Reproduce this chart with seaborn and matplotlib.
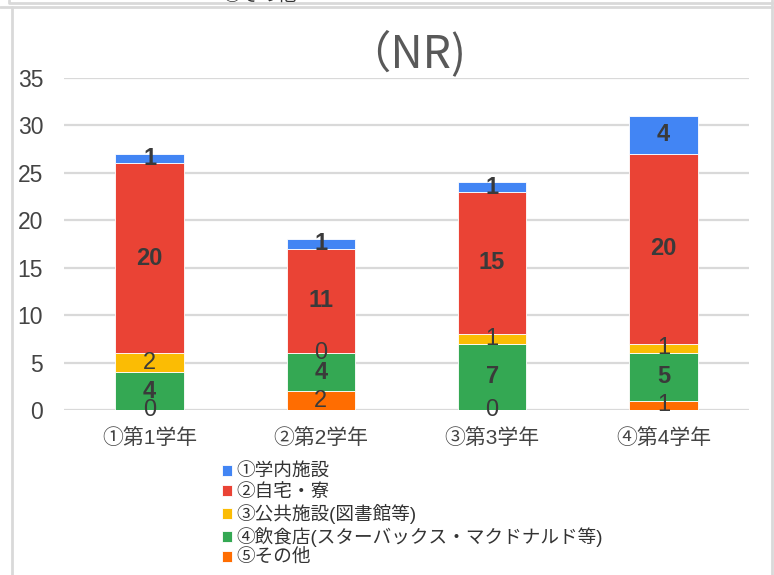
import matplotlib
matplotlib.use("Agg")
import matplotlib.pyplot as plt
import seaborn as sns
import pandas as pd
from matplotlib.lines import Line2D

grades = ["①第1学年", "②第2学年", "③第3学年", "④第4学年"]
series = ["①学内施設", "②自宅・寮", "③公共施設(図書館等)",
          "④飲食店(スターバックス・マクドナルド等)", "⑤その他"]
campus = [1, 1, 1, 4]
home = [20, 11, 15, 20]
public = [2, 0, 1, 1]
food = [4, 4, 7, 5]
other = [0, 2, 0, 1]
colors = ["#4285F4", "#EA4335", "#FBBC04", "#34A853", "#FF6D01"]

sns.set_theme(style="white")
plt.rcParams["font.family"] = ["Liberation Sans", "Noto Sans CJK JP", "DejaVu Sans"]

fig = plt.figure(figsize=(7.74, 5.75), dpi=100)
ax = fig.add_axes([64 / 774, 1 - 410 / 575, 685 / 774, 332 / 575])

# stacked from the bottom: その他, 飲食店, 公共施設, 自宅, 学内
stack = [(series[4], other, colors[4], False),
         (series[3], food, colors[3], True),
         (series[2], public, colors[2], False),
         (series[1], home, colors[1], True),
         (series[0], campus, colors[0], True)]

bottom = [0] * len(grades)
handles = {}
for name, vals, col, bold in stack:
    df = pd.DataFrame({"grade": grades, "n": vals})
    sns.barplot(data=df, x="grade", y="n", color=col, width=0.4,
                bottom=bottom, ax=ax, saturation=1, zorder=3,
                edgecolor="white", linewidth=0.6)
    cont = ax.containers[-1]
    handles[name] = cont
    ax.bar_label(cont, labels=[str(v) for v in vals], label_type="center",
                 fontsize=17, color="#3a3a3a",
                 fontweight="bold" if bold else "normal", zorder=4)
    bottom = [b + v for b, v in zip(bottom, vals)]

ax.set_ylim(0, 35)
ax.set_yticks(range(0, 36, 5))
ax.set_xlim(-0.5, 3.5)
ax.yaxis.grid(True, color="#d9d9d9", lw=1.6, zorder=0)
ax.set_axisbelow(True)
for s in ax.spines.values():
    s.set_visible(False)
ax.tick_params(axis="both", length=0, colors="#444444")
ax.tick_params(axis="x", labelsize=15, pad=13)
ax.tick_params(axis="y", labelsize=16.5, pad=15)
ax.set_xlabel("")
ax.set_ylabel("")
ax.set_title("（NR)", fontsize=32, color="#595959", pad=8,
             family=["Liberation Sans Narrow", "Noto Sans CJK JP", "DejaVu Sans"])

fig.legend([handles[s] for s in series], series, loc="upper left",
           bbox_to_anchor=(222 / 774, 1 - 464 / 575), frameon=False,
           fontsize=13.4, handlelength=0.55, handleheight=0.55,
           handletextpad=0.2, labelspacing=0.16, borderpad=0,
           borderaxespad=0, labelcolor="#333333")

# frame of this chart box and the bottom of the box above it
def fig_line(xs, ys):
    fig.add_artist(Line2D([x / 774 for x in xs], [1 - y / 575 for y in ys],
                          transform=fig.transFigure, color="#d9d9d9", lw=2))

fig_line([9, 9, 772], [0, 3, 3])
fig_line([0, 772], [6.5, 6.5])
fig_line([12, 12], [6.5, 575])
fig_line([772, 772], [0, 575])
fig.text(222 / 774, 1 - 1.5 / 575, "⑤その他", fontsize=13.4, color="#333333",
         va="baseline")

fig.savefig("out.png", dpi=100)
